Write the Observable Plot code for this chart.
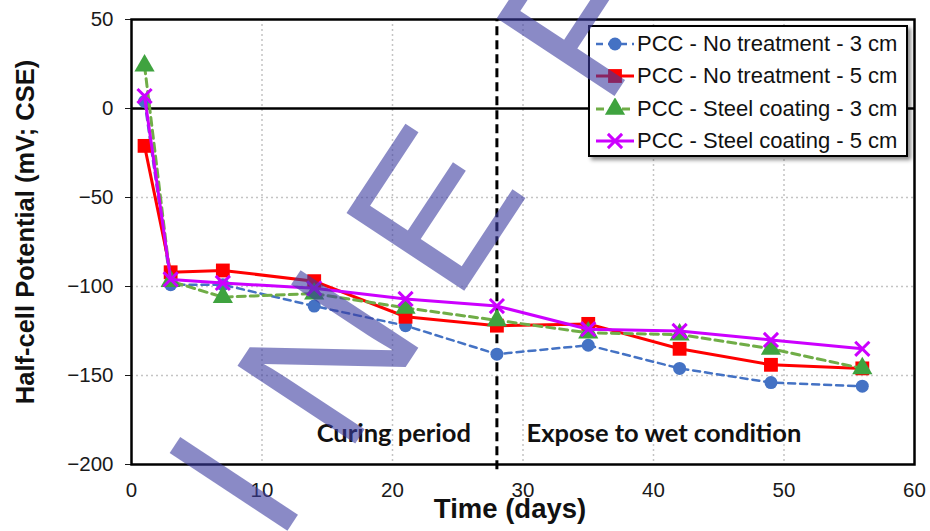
<!DOCTYPE html>
<html><head><meta charset="utf-8">
<script src="https://cdn.jsdelivr.net/npm/d3@7"></script>
<script src="https://cdn.jsdelivr.net/npm/@observablehq/plot@0.6"></script>
<style>
body{margin:0;background:#fff;}
#wrap{position:relative;width:930px;height:531px;overflow:hidden;font-family:"Liberation Sans",Arial,sans-serif;}
#legend{position:absolute;left:588px;top:25px;width:320px;height:132px;border:2px solid #000;background:#fff;box-shadow:3px 3px 4px rgba(0,0,0,0.45);box-sizing:border-box;}
.row{position:absolute;left:6px;height:32px;display:flex;align-items:center;font-size:22px;color:#111;white-space:nowrap;}
.row svg{margin-right:3px;}
#wm{position:absolute;left:0;top:0;pointer-events:none;}
</style></head><body><div id="wrap"></div>
<script>
// ---- data ----
const days = [1, 3, 7, 14, 21, 28, 35, 42, 49, 56];
const seriesNames = ["PCC - No treatment - 3 cm", "PCC - No treatment - 5 cm", "PCC - Steel coating - 3 cm", "PCC - Steel coating - 5 cm"];
const noTreat3 = [4, -99, -99, -111, -122, -138, -133, -146, -154, -156];
const noTreat5 = [-21, -92, -91, -97, -117, -122, -121, -135, -144, -146];
const steel3 = [24, -97, -106, -104, -112, -119, -126, -127, -135, -146];
const steel5 = [7, -96, -98, -101, -107, -111, -124, -125, -130, -135];
const xTicks = [0, 10, 20, 30, 40, 50, 60];
const yTicks = [-200, -150, -100, -50, 0, 50];
const phaseBoundary = 28;
const phaseLabels = ["Curing period", "Expose to wet condition"];
const phaseLabelX = [20.1, 40.8];
const phaseLabelY = [-183, -183];
const xTitle = "Time (days)";
const yTitle = "Half-cell Potential (mV; CSE)";
const watermarkLetters = ["I", "N", "E", "F"];
const watermarkPos = [[231, 482], [325, 355], [431, 207], [578, 17]];

// ---- styles ----
const styles = [
  {line: "#4472C4", marker: "#4472C4", dash: "7,5", symbol: "circle", r: 6.5, w: 2.5},
  {line: "#FF0000", marker: "#FF0000", dash: null, symbol: "square", r: 7.8, w: 3},
  {line: "#70AD47", marker: "#3FA33F", dash: "8,5", symbol: "triangle", r: 7.5, w: 3},
  {line: "#CC00FF", marker: "#CC00FF", dash: null, symbol: "times", r: 6.5, w: 3}
];
const valuesBySeries = [noTreat3, noTreat5, steel3, steel5];
const seriesData = valuesBySeries.map((vals, i) => days.map((d, j) => ({day: d, v: vals[j], s: seriesNames[i]})));

const marks = [
  Plot.gridX(xTicks.slice(1, -1), {stroke: "#c4c4c4", strokeOpacity: 1, strokeWidth: 1.5, strokeDasharray: "2,3"}),
  Plot.gridY([-150, -100, -50], {stroke: "#c4c4c4", strokeOpacity: 1, strokeWidth: 1.5, strokeDasharray: "2,3"}),
  Plot.ruleY([0], {stroke: "black", strokeWidth: 2.5}),
  Plot.ruleX([phaseBoundary], {y1: -203, y2: 50, stroke: "black", strokeWidth: 3, strokeDasharray: "9,5"}),
  Plot.axisX({ticks: xTicks, tickSize: 0, tickPadding: 18, fontSize: 20.5, label: null}),
  Plot.axisY({ticks: yTicks, tickSize: 6, tickPadding: 12, fontSize: 20.5, label: null}),
  Plot.frame({stroke: "black", strokeWidth: 2.5}),
  Plot.text(phaseLabels, {x: (d, i) => phaseLabelX[i], y: (d, i) => phaseLabelY[i], text: d => d, fontFamily: "Lato", fontWeight: "bold", fontSize: 25.5, fill: "#111"}),
  Plot.text([xTitle], {frameAnchor: "bottom", dx: -13, dy: 53, fontWeight: "bold", fontSize: 27.5, fill: "#111"}),
  Plot.text([yTitle], {frameAnchor: "left", textAnchor: "middle", dx: -106, dy: -10, rotate: -90, fontWeight: "bold", fontSize: 25.5, fill: "#111"})
];
seriesData.forEach((data, i) => {
  const st = styles[i];
  marks.push(Plot.line(data, {x: "day", y: "v", stroke: st.line, strokeWidth: st.w, strokeDasharray: st.dash || undefined}));
  if (st.symbol === "times") {
    marks.push(Plot.dot(data, {x: "day", y: "v", symbol: "times", r: st.r, stroke: st.marker, strokeWidth: 3, fill: "none"}));
  } else {
    marks.push(Plot.dot(data, {x: "day", y: "v", symbol: st.symbol, r: st.r, fill: st.marker, stroke: "none"}));
  }
});

const chart = Plot.plot({
  width: 930, height: 531,
  marginLeft: 131, marginRight: 16, marginTop: 19, marginBottom: 67,
  x: {domain: [0, 60]},
  y: {domain: [-200, 50]},
  style: {fontFamily: "Liberation Sans, Arial, sans-serif", color: "#1a1a1a", background: "white"},
  marks
});
const wrap = document.getElementById("wrap");
wrap.appendChild(chart);

// ---- legend ----
const legend = document.createElement("div");
legend.id = "legend";
seriesNames.forEach((name, i) => {
  const st = styles[i];
  const row = document.createElement("div");
  row.className = "row";
  row.style.top = (1 + i * 32.3) + "px";
  const sym = {circle: d3.symbolCircle, square: d3.symbolSquare, triangle: d3.symbolTriangle, times: d3.symbolTimes}[st.symbol];
  const p = d3.symbol(sym, Math.PI * st.r * st.r)();
  const markerSvg = st.symbol === "times"
    ? `<path d="${p}" transform="translate(19,11)" fill="none" stroke="${st.marker}" stroke-width="3"/>`
    : `<path d="${p}" transform="translate(19,11)" fill="${st.marker}"/>`;
  row.innerHTML = `<svg width="38" height="22"><line x1="0" x2="38" y1="11" y2="11" stroke="${st.line}" stroke-width="${st.w}" ${st.dash ? `stroke-dasharray="${st.dash}"` : ""}/>${markerSvg}</svg><span>${name}</span>`;
  legend.appendChild(row);
});
wrap.appendChild(legend);

// ---- watermark overlay ----
const wm = d3.select(wrap).append("svg").attr("id", "wm").attr("width", 930).attr("height", 531);
wm.selectAll("text").data(watermarkLetters).join("text")
  .attr("transform", (d, i) => `translate(${watermarkPos[i][0]},${watermarkPos[i][1]}) rotate(-56.6)`)
  .attr("text-anchor", "middle").attr("dy", "0.36em")
  .attr("font-family", "Liberation Sans, Arial, sans-serif").attr("font-size", 205)
  .attr("fill", "#3c3ca0").attr("fill-opacity", 0.6)
  .text(d => d);
</script></body></html>
